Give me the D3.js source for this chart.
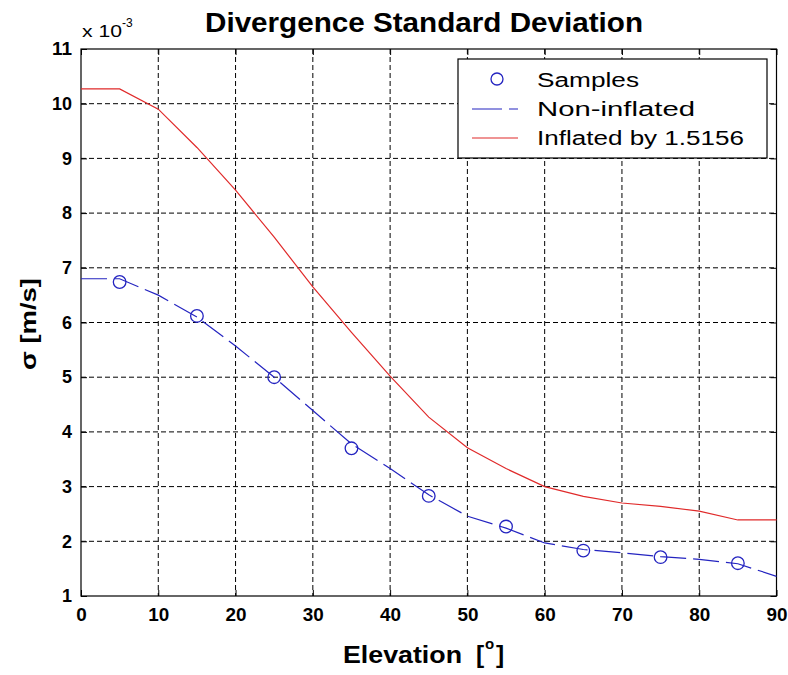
<!DOCTYPE html>
<html><head><meta charset="utf-8">
<script src="https://cdn.jsdelivr.net/npm/d3@7"></script>
<style>body{margin:0;background:#fff}svg{display:block}</style>
</head><body><svg id="c" width="788" height="675"></svg>
<script>
// ---- data (values in units of 1e-3 m/s) ----
const elevation   = [0, 5, 10, 15, 20, 25, 30, 35, 40, 45, 50, 55, 60, 65, 70, 75, 80, 85, 90];
const nonInflated = [6.80, 6.80, 6.50, 6.10, 5.57, 5.00, 4.39, 3.78, 3.33, 2.85, 2.46, 2.24, 1.97, 1.85, 1.79, 1.72, 1.67, 1.59, 1.36];
const inflated    = [10.27, 10.27, 9.90, 9.20, 8.42, 7.56, 6.65, 5.82, 5.02, 4.27, 3.71, 3.33, 3.00, 2.82, 2.70, 2.64, 2.55, 2.39, 2.39];
const sampleElevation = [5, 15, 25, 35, 45, 55, 65, 75, 85];
const sampleValues    = [6.74, 6.12, 5.00, 3.70, 2.83, 2.27, 1.83, 1.71, 1.60];
const xTicks = [0, 10, 20, 30, 40, 50, 60, 70, 80, 90];
const yTicks = [1, 2, 3, 4, 5, 6, 7, 8, 9, 10, 11];
const legendLabels = ["Samples", "Non-inflated", "Inflated by 1.5156"];
const titleText = "Divergence Standard Deviation";

const BLUE = "#2424c0", RED = "#e02a2a";
const svg = d3.select("#c");
svg.append("rect").attr("width", 788).attr("height", 675).attr("fill", "#fff");

const L = 81, R = 776.5, T = 49, B = 596;
const x = d3.scaleLinear().domain([0, 90]).range([L, R]);
const y = d3.scaleLinear().domain([1, 11]).range([B, T]);
const FONT = "'Liberation Sans', Arial, Helvetica, sans-serif";

// grid
const g = svg.append("g");
g.selectAll(".gx").data(xTicks.slice(1, -1)).enter().append("line")
  .attr("x1", d => x(d)).attr("x2", d => x(d)).attr("y1", T).attr("y2", B)
  .attr("stroke", "#000").attr("stroke-width", 1).attr("stroke-dasharray", "5,3");
g.selectAll(".gy").data(yTicks.slice(1, -1)).enter().append("line")
  .attr("y1", d => y(d)).attr("y2", d => y(d)).attr("x1", L).attr("x2", R)
  .attr("stroke", "#000").attr("stroke-width", 1).attr("stroke-dasharray", "5,3");

// axes
function styleAxis(sel) {
  sel.select(".domain").remove();
  sel.selectAll(".tick line").attr("stroke", "#000");
  sel.selectAll("text").attr("font-family", FONT).attr("font-weight", "bold")
    .attr("font-size", 18).attr("fill", "#000");
}
const ax = svg.append("g").attr("transform", `translate(0,${B})`)
  .call(d3.axisBottom(x).tickValues(xTicks).tickSizeInner(-6).tickSizeOuter(0).tickPadding(12));
styleAxis(ax);
ax.selectAll("text").attr("textLength", d => String(d).length * 10.5).attr("lengthAdjust", "spacingAndGlyphs");
const ay = svg.append("g").attr("transform", `translate(${L},0)`)
  .call(d3.axisLeft(y).tickValues(yTicks).tickSizeInner(-6).tickSizeOuter(0).tickPadding(9));
styleAxis(ay);
ay.selectAll("text").attr("textLength", d => String(d).length * 10).attr("lengthAdjust", "spacingAndGlyphs");
const axT = svg.append("g").attr("transform", `translate(0,${T})`)
  .call(d3.axisTop(x).tickValues(xTicks).tickSizeInner(-6).tickSizeOuter(0).tickFormat(""));
styleAxis(axT);
const ayR = svg.append("g").attr("transform", `translate(${R},0)`)
  .call(d3.axisRight(y).tickValues(yTicks).tickSizeInner(-6).tickSizeOuter(0).tickFormat(""));
styleAxis(ayR);

// box
svg.append("rect").attr("x", L).attr("y", T).attr("width", R - L).attr("height", B - T)
  .attr("fill", "none").attr("stroke", "#000").attr("stroke-width", 1.2);

// lines
const line = d3.line().x((d, i) => x(elevation[i])).y(d => y(d));
svg.append("path").datum(inflated).attr("d", line)
  .attr("fill", "none").attr("stroke", RED).attr("stroke-width", 1.2);
svg.append("path").datum(nonInflated).attr("d", line)
  .attr("fill", "none").attr("stroke", BLUE).attr("stroke-width", 1.2).attr("stroke-dasharray", "26,7");
svg.selectAll(".s").data(sampleValues).enter().append("circle")
  .attr("cx", (d, i) => x(sampleElevation[i])).attr("cy", d => y(d)).attr("r", 6.3)
  .attr("fill", "none").attr("stroke", BLUE).attr("stroke-width", 1.3);

// title
svg.append("text").attr("x", 424).attr("y", 32).attr("text-anchor", "middle")
  .attr("font-family", FONT).attr("font-weight", "bold").attr("font-size", 28)
  .attr("textLength", 438).attr("lengthAdjust", "spacingAndGlyphs").text(titleText);

// exponent label
svg.append("text").attr("x", 82).attr("y", 37).attr("font-family", FONT).attr("font-size", 16)
  .attr("textLength", 40).attr("lengthAdjust", "spacingAndGlyphs").text("x 10");
svg.append("text").attr("x", 122).attr("y", 27).attr("font-family", FONT).attr("font-size", 12)
  .text("-3");

// x label
const xl = svg.append("text").attr("font-family", FONT).attr("font-weight", "bold").attr("y", 663);
xl.append("tspan").attr("x", 343).attr("font-size", 24.5).attr("textLength", 119)
  .attr("lengthAdjust", "spacingAndGlyphs").text("Elevation");
xl.append("tspan").attr("x", 476).attr("font-size", 24.5).text("[");
xl.append("tspan").attr("x", 485).attr("y", 649).attr("font-size", 15).text("o");
xl.append("tspan").attr("x", 496).attr("y", 663).attr("font-size", 24.5).text("]");

// y label
svg.append("text").attr("transform", "translate(36,324) rotate(-90)").attr("text-anchor", "middle")
  .attr("font-family", FONT).attr("font-weight", "bold").attr("font-size", 22)
  .attr("textLength", 92).attr("lengthAdjust", "spacingAndGlyphs").text("σ [m/s]");

// legend
const lg = svg.append("g");
lg.append("rect").attr("x", 458).attr("y", 59).attr("width", 309).attr("height", 99)
  .attr("fill", "#fff").attr("stroke", "#000").attr("stroke-width", 1.2);
const rowsY = [87, 116, 145];
const textLens = [102, 158, 207];
legendLabels.forEach((lab, i) => {
  lg.append("text").attr("x", 537).attr("y", rowsY[i]).attr("font-family", FONT)
    .attr("font-size", 20).attr("textLength", textLens[i]).attr("lengthAdjust", "spacingAndGlyphs")
    .attr("fill", "#000").text(lab);
});
lg.append("circle").attr("cx", 497).attr("cy", rowsY[0] - 8).attr("r", 6)
  .attr("fill", "none").attr("stroke", BLUE).attr("stroke-width", 1.3);
lg.append("line").attr("x1", 472).attr("x2", 518).attr("y1", rowsY[1] - 7).attr("y2", rowsY[1] - 7)
  .attr("stroke", BLUE).attr("stroke-width", 1.2).attr("stroke-dasharray", "30,7");
lg.append("line").attr("x1", 472).attr("x2", 518).attr("y1", rowsY[2] - 7).attr("y2", rowsY[2] - 7)
  .attr("stroke", RED).attr("stroke-width", 1.2);
</script></body></html>
